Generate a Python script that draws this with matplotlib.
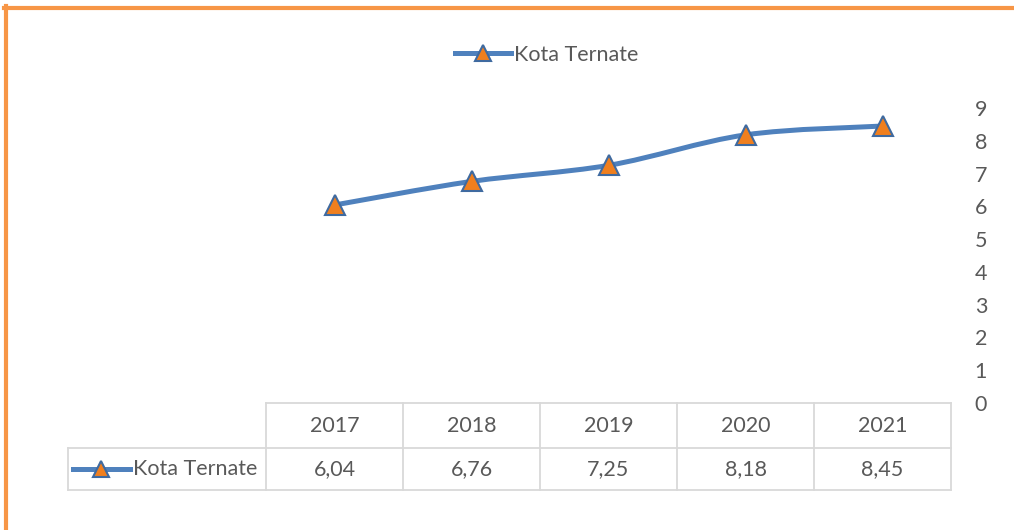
import matplotlib.pyplot as plt
from matplotlib.path import Path
from matplotlib.patches import PathPatch
from matplotlib.lines import Line2D

plt.rcParams["font.family"] = ["Lato", "DejaVu Sans"]

# ======= データ =======
years = ["2017", "2018", "2019", "2020", "2021"]
values = [6.04, 6.76, 7.25, 8.18, 8.45]
value_labels = ["6,04", "6,76", "7,25", "8,18", "8,45"]
series_name = "Kota Ternate"

LINE_C = "#4f81bd"
MARK_FACE = "#f07f1e"
MARK_EDGE = "#3f6aa0"
TEXT_C = "#595959"
GRID_C = "#d9d9d9"
FS = 15.5

W, H = 1014, 530
fig = plt.figure(figsize=(W / 100, H / 100), dpi=100)

def fx(px):
    return px / W

def fy(py):
    return 1 - py / H

# plot area (pixel coords of reference)
x0, x1 = 266, 951
y_top, y_bot = 108, 403
ax = fig.add_axes([fx(x0), fy(y_bot), fx(x1) - fx(x0), fy(y_top) - fy(y_bot)])
ax.set_xlim(-0.5, len(years) - 0.5)
ax.set_ylim(0, 9)
ax.set_yticks(range(0, 10))
ax.yaxis.tick_right()
ax.tick_params(axis="y", length=0, pad=17, labelsize=FS, labelcolor=TEXT_C)
ax.set_xticks([])
for s in ax.spines.values():
    s.set_visible(False)
ax.patch.set_alpha(0)

# ======= 平滑線 (Bezier) =======
xs = list(range(len(values)))
pts = list(zip(xs, values))
verts = [pts[0]]
codes = [Path.MOVETO]
for i in range(len(pts) - 1):
    p0 = pts[i - 1] if i > 0 else pts[i]
    p1 = pts[i]
    p2 = pts[i + 1]
    p3 = pts[i + 2] if i + 2 < len(pts) else pts[i + 1]
    c1 = (p1[0] + (p2[0] - p0[0]) / 6, p1[1] + (p2[1] - p0[1]) / 6)
    c2 = (p2[0] - (p3[0] - p1[0]) / 6, p2[1] - (p3[1] - p1[1]) / 6)
    verts += [c1, c2, p2]
    codes += [Path.CURVE4] * 3
ax.add_patch(PathPatch(Path(verts, codes), facecolor="none", edgecolor=LINE_C,
                       lw=3.6, capstyle="round", joinstyle="round"))
ax.plot(xs, values, linestyle="none", marker="^", markersize=15,
        markerfacecolor=MARK_FACE, markeredgecolor=MARK_EDGE, markeredgewidth=1.5,
        zorder=3)

# ======= 凡例 =======
handle = Line2D([], [], color=LINE_C, lw=3.6, marker="^", markersize=12,
                markerfacecolor=MARK_FACE, markeredgecolor=MARK_EDGE, markeredgewidth=1.5)
fig.legend([handle], [series_name], loc="center", bbox_to_anchor=(fx(547), fy(55)),
           frameon=False, fontsize=FS, labelcolor=TEXT_C, handlelength=2.6,
           handletextpad=0.15)

# ======= データテーブル =======
col_w = (x1 - x0) / len(years)
r0, r1, r2 = 403, 448, 490
lbl_left = 68

def hline(y, xa, xb):
    fig.add_artist(Line2D([fx(xa), fx(xb)], [fy(y), fy(y)], color=GRID_C, lw=1.3))

def vline(x, ya, yb):
    fig.add_artist(Line2D([fx(x), fx(x)], [fy(ya), fy(yb)], color=GRID_C, lw=1.3))

hline(r0, x0, x1)
hline(r1, lbl_left, x1)
hline(r2, lbl_left, x1)
vline(lbl_left, r1, r2)
for i in range(len(years) + 1):
    vline(x0 + i * col_w, r0, r2)

for i, (yr, v) in enumerate(zip(years, value_labels)):
    cx = x0 + (i + 0.5) * col_w
    fig.text(fx(cx), fy((r0 + r1) / 2), yr, ha="center", va="center",
             fontsize=FS, color=TEXT_C)
    fig.text(fx(cx), fy((r1 + r2) / 2), v, ha="center", va="center",
             fontsize=FS, color=TEXT_C)

# 行ラベル (凡例キー付き)
ry = fy((r1 + r2) / 2)
fig.add_artist(Line2D([fx(73), fx(130)], [ry, ry], color=LINE_C, lw=3.6))
fig.add_artist(Line2D([fx(101)], [ry], marker="^", markersize=12,
                      markerfacecolor=MARK_FACE, markeredgecolor=MARK_EDGE,
                      markeredgewidth=1.5))
fig.text(fx(133), ry, series_name, ha="left", va="center", fontsize=FS, color=TEXT_C)

# ======= 枠線 (オレンジ) =======
fig.add_artist(Line2D([fx(4), 1.0], [fy(8), fy(8)], color="#f79646", lw=3))
fig.add_artist(Line2D([fx(5.5), fx(5.5)], [fy(6), 0.0], color="#f79646", lw=3))

plt.savefig("out.png", dpi=100)
